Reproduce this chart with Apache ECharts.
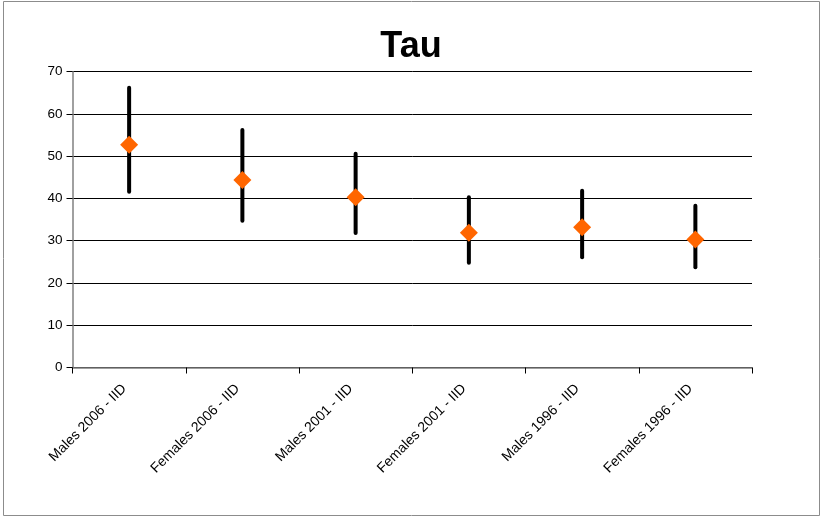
<!DOCTYPE html>
<html>
<head>
<meta charset="utf-8">
<script src="https://cdn.jsdelivr.net/npm/echarts@6/dist/echarts.min.js"></script>
<style>
html,body{margin:0;padding:0;background:#fff;}
#main{width:822px;height:519px;}
</style>
</head>
<body>
<div id="main"></div>
<script>
var categories = ['Males 2006 - IID','Females 2006 - IID','Males 2001 - IID','Females 2001 - IID','Males 1996 - IID','Females 1996 - IID'];
var meanValues = [52.7, 44.4, 40.3, 31.9, 33.2, 30.3];
var upperValues = [66.2, 56.2, 50.6, 40.3, 41.8, 38.3];
var lowerValues = [41.6, 34.7, 31.8, 24.8, 26.1, 23.7];
var yTicks = [0, 10, 20, 30, 40, 50, 60, 70];

var chart = echarts.init(document.getElementById('main'), null, {renderer: 'canvas'});
var errData = categories.map(function (c, i) { return [i, lowerValues[i], upperValues[i]]; });

chart.setOption({
  animation: false,
  backgroundColor: '#fff',
  graphic: [{
    type: 'rect',
    shape: {x: 3.5, y: 1.5, width: 816, height: 514},
    style: {fill: 'none', stroke: '#8c8c8c', lineWidth: 1},
    silent: true
  }],
  title: {
    text: 'Tau',
    left: 'center',
    top: 24,
    textStyle: {fontFamily: 'Liberation Sans, Arial, sans-serif', fontWeight: 'bold', fontSize: 36, color: '#000'}
  },
  grid: {left: 72.5, right: 70, top: 71.7, bottom: 151.5, containLabel: false},
  xAxis: {
    type: 'category',
    data: categories,
    boundaryGap: true,
    axisLine: {lineStyle: {color: '#808080', width: 1.5}},
    axisTick: {show: true, length: 6, inside: false, lineStyle: {color: '#000', width: 1}, alignWithLabel: false},
    axisLabel: {rotate: 45, fontFamily: 'Liberation Sans, Arial, sans-serif', fontSize: 14, color: '#000', margin: 24, verticalAlign: 'bottom', interval: 0},
    splitLine: {show: false}
  },
  yAxis: {
    type: 'value',
    min: yTicks[0],
    max: yTicks[yTicks.length - 1],
    interval: 10,
    axisLine: {show: true, lineStyle: {color: '#808080', width: 1.5}},
    axisTick: {show: true, length: 6, lineStyle: {color: '#000'}},
    axisLabel: {fontFamily: 'Liberation Sans, Arial, sans-serif', fontSize: 13.5, color: '#000', margin: 10},
    splitLine: {lineStyle: {color: '#000', width: 1}}
  },
  series: [{
    type: 'custom',
    data: errData,
    z: 3,
    renderItem: function (params, api) {
      var x = api.value(0);
      var lo = api.coord([x, api.value(1)]);
      var hi = api.coord([x, api.value(2)]);
      return {
        type: 'line',
        shape: {x1: lo[0], y1: lo[1], x2: hi[0], y2: hi[1]},
        style: {stroke: '#000', lineWidth: 4, lineCap: 'round'}
      };
    },
    encode: {x: 0, y: [1, 2]}
  }, {
    type: 'scatter',
    data: meanValues,
    z: 4,
    symbol: 'diamond',
    symbolSize: [18, 18],
    itemStyle: {color: '#FF6600', opacity: 1}
  }]
});
</script>
</body>
</html>
